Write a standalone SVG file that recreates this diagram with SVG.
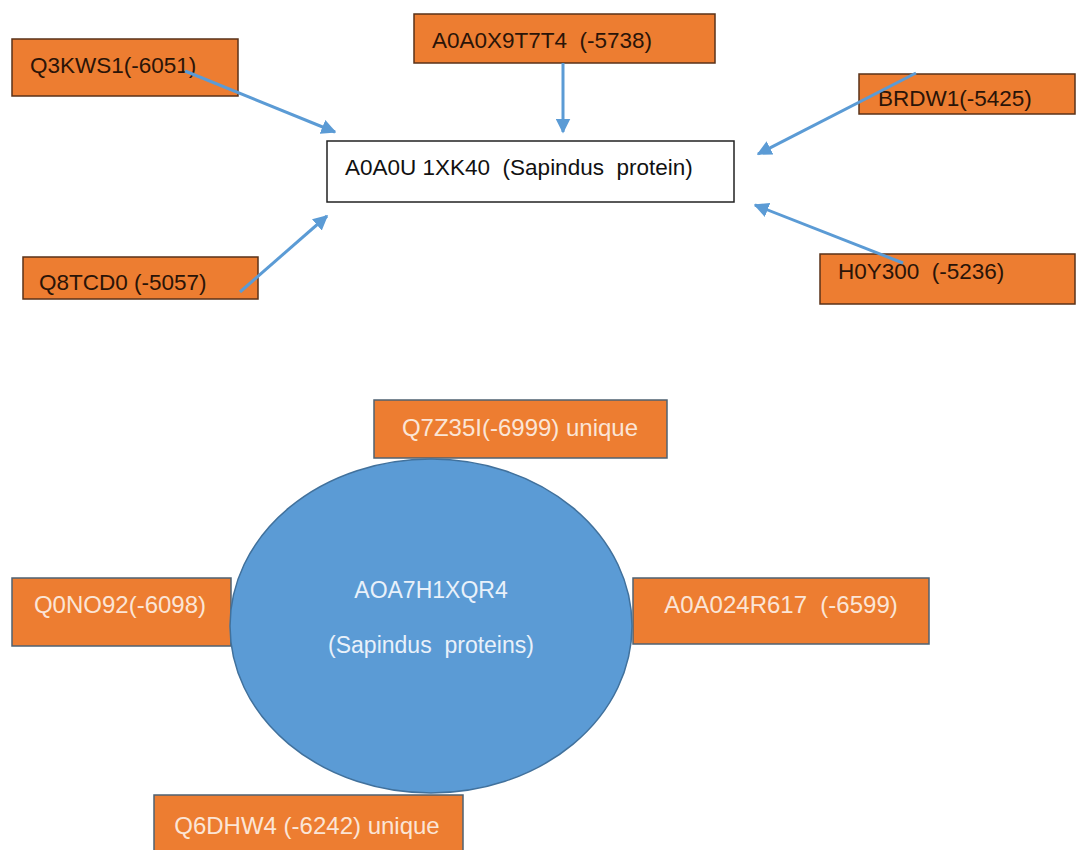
<svg xmlns="http://www.w3.org/2000/svg" width="1078" height="850" viewBox="0 0 1078 850">
<style>
.ob{fill:#ED7D31;stroke:#5a3218;stroke-width:1.5}
.bb{fill:#ED7D31;stroke:#4f6272;stroke-width:1.5}
.t{font-family:"Liberation Sans",Arial,sans-serif;font-size:22.5px;white-space:pre}
.b{font-size:24px}
.e{font-size:23px}
.dk{fill:#2a1408}
.lt{fill:#FBE5D6}
.el{fill:#E9F1FA}
.conn line{stroke:#5B9BD5;stroke-width:3}
</style>
<defs>
<marker id="ah" viewBox="0 0 10 10" refX="9" refY="5" markerWidth="5" markerHeight="5" orient="auto" markerUnits="strokeWidth">
<path d="M0,0 L10,5 L0,10 z" fill="#5B9BD5"/>
</marker>
</defs>
<rect width="1078" height="850" fill="#ffffff"/>

<g id="center-box">
<rect x="327" y="141" width="407" height="61" fill="#ffffff" stroke="#222222" stroke-width="1.5"/>
<text class="t" x="345" y="175" fill="#111111">A0A0U 1XK40  (Sapindus  protein)</text>
</g>

<g id="q3kws1">
<rect class="ob" x="12" y="39" width="226" height="57"/>
<text class="t dk" x="30" y="73">Q3KWS1(-6051)</text>
</g>

<g id="a0a0x9t7t4">
<rect class="ob" x="414" y="14" width="301" height="49"/>
<text class="t dk" x="432" y="48">A0A0X9T7T4  (-5738)</text>
</g>

<g id="brdw1">
<rect class="ob" x="859" y="74" width="216" height="40"/>
<text class="t dk" x="878" y="106">BRDW1(-5425)</text>
</g>

<g id="q8tcd0">
<rect class="ob" x="23" y="257" width="235" height="42"/>
<text class="t dk" x="39" y="290">Q8TCD0 (-5057)</text>
</g>

<g id="h0y300">
<rect class="ob" x="820" y="254" width="255" height="50"/>
<text class="t dk" x="838" y="279">H0Y300  (-5236)</text>
</g>

<g class="conn" id="connectors">
<line x1="185" y1="71" x2="335" y2="132" marker-end="url(#ah)"/>
<line x1="563" y1="63" x2="563" y2="132" marker-end="url(#ah)"/>
<line x1="916" y1="73" x2="758" y2="154" marker-end="url(#ah)"/>
<line x1="240" y1="292" x2="327" y2="216" marker-end="url(#ah)"/>
<line x1="903" y1="263" x2="755" y2="205" marker-end="url(#ah)"/>
</g>

<g id="q7z35i">
<rect class="bb" x="374" y="400" width="293" height="58"/>
<text class="t b lt" x="520" y="436" text-anchor="middle">Q7Z35I(-6999) unique</text>
</g>

<g id="q0no92">
<rect class="bb" x="12" y="578" width="219" height="68"/>
<text class="t b lt" x="120" y="613" text-anchor="middle">Q0NO92(-6098)</text>
</g>

<g id="a0a024r617">
<rect class="bb" x="633" y="578" width="296" height="66"/>
<text class="t b lt" x="781" y="613" text-anchor="middle">A0A024R617  (-6599)</text>
</g>

<g id="q6dhw4">
<rect class="bb" x="154" y="795" width="309" height="60"/>
<text class="t b lt" x="307" y="834" text-anchor="middle">Q6DHW4 (-6242) unique</text>
</g>

<g id="ellipse-node">
<ellipse cx="431" cy="626" rx="201" ry="167" fill="#5B9BD5" stroke="#41719C" stroke-width="1.5"/>
<text class="t e el" x="431" y="598" text-anchor="middle">AOA7H1XQR4</text>
<text class="t e el" x="431" y="653" text-anchor="middle">(Sapindus  proteins)</text>
</g>
</svg>
